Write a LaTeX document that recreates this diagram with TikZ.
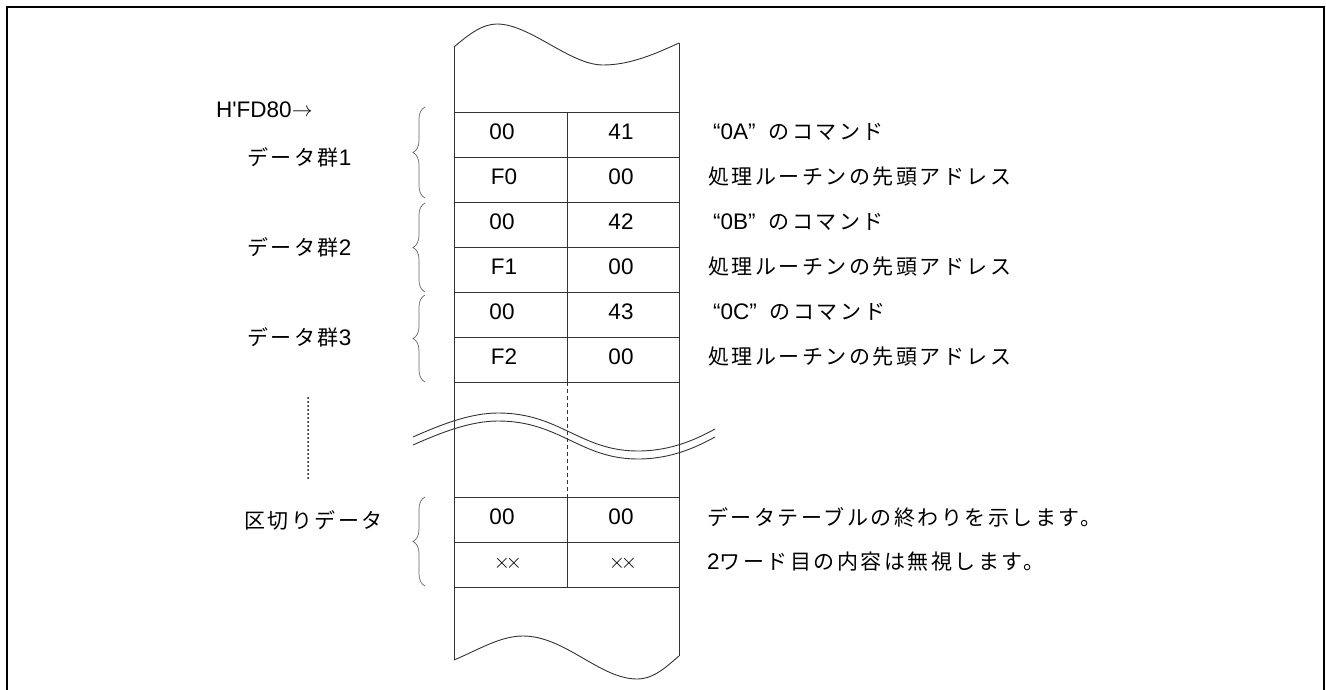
\documentclass[tikz,border=0pt]{standalone}
\usepackage{fontspec}
\setmainfont{Liberation Sans}[Ligatures=TeXOff]
\newfontfamily\jp[LetterSpace=12]{Noto Sans CJK JP}
\usetikzlibrary{decorations.pathreplacing}
\newcommand{\jpt}{\fontsize{21}{26}\selectfont\jp}
\begin{document}
\begin{tikzpicture}[x=1pt,y=-1pt,
  tline/.style={line width=0.9pt, draw=black!80},
  bracestyle/.style={decorate, decoration={brace, amplitude=12pt}, draw=black!60, line width=0.7pt},
  cell/.style={font=\fontsize{22.5}{26}\selectfont, inner sep=0pt},
  lbl/.style={font=\fontsize{22.5}{26}\selectfont, inner sep=0pt, anchor=west},
  jfont/.style={font=\jpt, inner sep=0pt, anchor=west},
]
\useasboundingbox (0,0) rectangle (1326,690);
% outer frame
\draw[line width=2.2pt] (7,720) -- (7,7) -- (1324,7) -- (1324,720);

% table sides
\draw[tline] (454,47) -- (454,660);
\draw[tline] (679,43) -- (679,656);
\foreach \yy in {112,157,202,247,292,337,382,497,542,587}
  \draw[tline] (454,\yy) -- (679,\yy);
\draw[tline] (567,112) -- (567,382);
\draw[tline, dash pattern=on 4pt off 3pt] (567,382) -- (567,497);
\draw[tline] (567,497) -- (567,587);

% top and bottom waves
\draw[tline] (454,47) .. controls (468,35) and (482,24) .. (497,24)
  .. controls (530,24) and (570,65) .. (603,65)
  .. controls (630,65) and (655,54) .. (679,43);
\draw[tline] (454,660) .. controls (478,650) and (500,636) .. (523,636)
  .. controls (565,636) and (600,679) .. (637,679)
  .. controls (655,679) and (668,665) .. (679,656);

% break waves
\draw[tline] (413,437) .. controls (440,425) and (470,413) .. (498,413)
  .. controls (560,413) and (580,451) .. (638,451)
  .. controls (670,451) and (695,440) .. (715,429);
\draw[tline] (413,445) .. controls (440,433) and (470,421) .. (498,421)
  .. controls (560,421) and (580,459) .. (638,459)
  .. controls (670,459) and (695,448) .. (715,437);

% dotted vertical
\draw[line width=2pt, line cap=round, dash pattern=on 0pt off 4pt] (308,398) -- (308,478);

% braces
\coordinate (b1t) at (425,107); \coordinate (b1b) at (425,198);
\coordinate (b2t) at (425,203); \coordinate (b2b) at (425,292);
\coordinate (b3t) at (425,295); \coordinate (b3b) at (425,382);
\coordinate (b4t) at (425,497); \coordinate (b4b) at (425,586);
\draw[bracestyle] (b1b) -- (b1t);
\draw[bracestyle] (b2b) -- (b2t);
\draw[bracestyle] (b3b) -- (b3t);
\draw[bracestyle] (b4b) -- (b4t);

% cell texts
\node[cell] (r1l) at (502,132) {00};
\node[cell] (r1r) at (621,132) {41};
\node[cell] (r2l) at (504,177) {F0};
\node[cell] (r2r) at (621,177) {00};
\node[cell] (r3l) at (502,222) {00};
\node[cell] (r3r) at (621,222) {42};
\node[cell] (r4l) at (504,267) {F1};
\node[cell] (r4r) at (621,267) {00};
\node[cell] (r5l) at (502,312) {00};
\node[cell] (r5r) at (621,312) {43};
\node[cell] (r6l) at (504,357) {F2};
\node[cell] (r6r) at (621,357) {00};
\node[cell] (r7l) at (502,517) {00};
\node[cell] (r7r) at (621,517) {00};
\node[cell, font=\fontsize{21}{26}\selectfont] (r8l) at (508,563) {${\times}\mkern-3.5mu{\times}$};
\node[cell, font=\fontsize{21}{26}\selectfont] (r8r) at (623,563) {${\times}\mkern-3.5mu{\times}$};

% left labels
\node[lbl] (addr) at (216,110) {H'FD80\raisebox{1pt}{$\rightarrow$}};
\node[lbl] (g1) at (247,157) {{\jpt データ群}1};
\node[lbl] (g2) at (247,247) {{\jpt データ群}2};
\node[lbl] (g3) at (247,337) {{\jpt データ群}3};
\node[jfont] (sep) at (244,520) {区切りデータ};

% right texts
\node[lbl] (t1) at (713,132) {“0A”\hspace{13pt}{\jpt のコマンド}};
\node[jfont] (t2) at (708,177) {処理ルーチンの先頭アドレス};
\node[lbl] (t3) at (713,222) {“0B”\hspace{13pt}{\jpt のコマンド}};
\node[jfont] (t4) at (708,267) {処理ルーチンの先頭アドレス};
\node[lbl] (t5) at (713,312) {“0C”\hspace{13pt}{\jpt のコマンド}};
\node[jfont] (t6) at (708,357) {処理ルーチンの先頭アドレス};
\node[jfont] (t7) at (707,517) {データテーブルの終わりを示します。};
\node[lbl] (t8) at (707,562) {2{\jpt ワード目の内容は無視します。}};
\end{tikzpicture}
\end{document}
